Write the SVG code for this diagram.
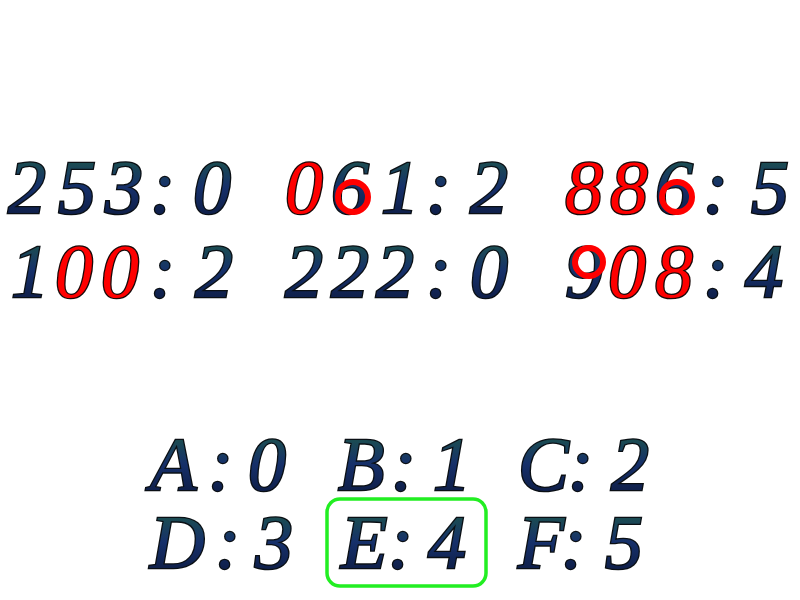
<svg xmlns="http://www.w3.org/2000/svg" width="800" height="600" viewBox="0 0 800 600">
<defs>
<linearGradient id="g" x1="0" y1="0" x2="0" y2="1">
<stop offset="0" stop-color="#1f6040"/>
<stop offset="0.5" stop-color="#16306a"/>
<stop offset="1" stop-color="#0b1638"/>
</linearGradient>
<style>
text{font-family:"Liberation Serif",serif;font-style:italic;font-size:76px;fill:url(#g);stroke:#0a0f14;stroke-width:2.6px;paint-order:stroke}
.r{fill:#ff0000;stroke:#1a0a0a}
.loop{fill:none;stroke:#ff0000;stroke-width:6px}
.box{fill:none;stroke:#22ee22;stroke-width:3.5px}
</style>
</defs>
<rect width="800" height="600" fill="#ffffff"/>
<g id="row1">
<text id="t253" x="8 58 105 150 175 193" y="213">253: 0</text>
<text id="t061" x="285 331 381 426 450 470" y="213"><tspan class="r">0</tspan>61: 2</text>
<text id="t886" x="565 610 655 703 725 751" y="213"><tspan class="r">88</tspan>6: 5</text>
</g>
<g id="row2">
<text id="t100" x="11 55 101 150 175 195" y="297">1<tspan class="r">00</tspan>: 2</text>
<text id="t222" x="285 331 376 426 450 470" y="297">222: 0</text>
<text id="t908" x="565 608 655 703 725 745" y="297">9<tspan class="r">0</tspan><tspan class="r">8</tspan>: 4</text>
</g>
<g id="loops">
<ellipse class="loop" cx="353" cy="197" rx="15" ry="15"/>
<ellipse class="loop" cx="677" cy="197" rx="15" ry="15"/>
<ellipse class="loop" cx="589" cy="262" rx="14" ry="14"/>
</g>
<g id="legend">
<text id="A" x="150 208 230 248" y="490">A: 0</text>
<text id="B" x="338 391 415 433" y="490">B: 1</text>
<text id="C" x="518 568 590 611" y="490">C: 2</text>
<text id="D" x="150 215 235 255" y="568">D: 3</text>
<text id="E" x="341 388 410 428" y="568">E: 4</text>
<text id="F" x="518 561 585 605" y="568">F: 5</text>
</g>
<g id="highlight">
<rect class="box" x="327" y="499" width="159" height="87" rx="13"/>
</g>
</svg>
